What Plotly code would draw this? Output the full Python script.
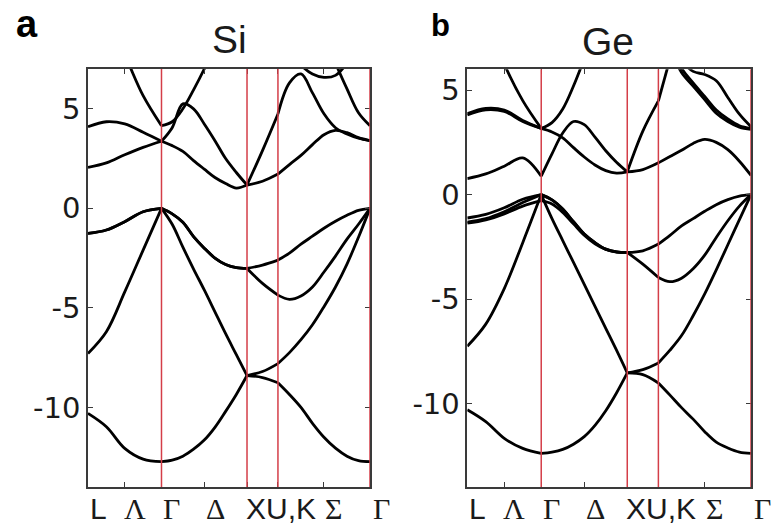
import plotly.graph_objects as go

# ---------------- data ----------------
# k-path nodes: L, Gamma, X, U|K, Gamma
K_NODES = [0.0, 0.855, 1.85, 2.21, 3.281]
# sample fractions along each segment  (L-G | G-X | X-U | K-G)
SEG_FRACS = [
    [0, .25, .5, .75, 1],
    [0, .125, .25, .375, .5, .625, .75, .875, 1],
    [0, .5, 1],
    [0, .125, .25, .375, .5, .625, .75, .875, 1],
]
TICK_K = [0.0, 0.4275, 0.855, 1.3525, 1.85, 2.21, 2.7455, 3.281]
TICK_TEXT = ["L", "Λ", "Γ", "Δ", "X", "U,K", "Σ", "Γ"]
TICK_SERIF = [False, True, True, True, False, False, True, True]
TICK_SHIFT = [10, 10, 10, 11, 9, 13, 10, 11]
Y_TICKS = [-10, -5, 0, 5]
Y_TICKTEXT = ["-10", "-5", "0", "5"]
SI_YRANGE = [-14, 7]
GE_YRANGE = [-14, 6]
N = None

# Si bands (eV), order: L-G(5) | G-X(9) | X-U(3) | K-G(9)
si_v1 = [-10.3, -10.97, -12.06, -12.6, -12.73,
         -12.73, -12.65, -12.45, -12.1, -11.64, -11.0, -10.2, -9.35, -8.4,
         -8.4, -8.5, -8.76,
         -8.76, -9.35, -10.0, -10.8, -11.5, -12.05, -12.45, -12.68, -12.73]
si_v2 = [-7.29, -6.2, -4.2, -2.1, 0.0,
         0.0, -0.8, -1.95, -3.05, -4.1, -5.2, -6.3, -7.35, -8.4,
         -8.4, -8.2, -7.8,
         -7.8, -7.25, -6.6, -5.85, -4.94, -3.95, -2.8, -1.45, 0.0]
si_v3 = [-1.26, -1.09, -0.67, -0.17, 0.0,
         0.0, -0.28, -0.7, -1.42, -2.0, -2.5, -2.82, -2.98, -3.02,
         -3.02, -3.77, -4.36,
         -4.36, -4.57, -4.4, -3.95, -3.2, -2.4, -1.55, -0.8, 0.0]
si_v4 = [-1.26, -1.09, -0.67, -0.17, 0.0,
         0.0, -0.28, -0.7, -1.42, -2.0, -2.5, -2.82, -2.98, -3.02,
         -3.02, -2.85, -2.6,
         -2.6, -2.25, -1.8, -1.4, -1.0, -0.65, -0.35, -0.1, 0.0]
si_c1 = [2.06, 2.28, 2.69, 3.06, 3.37,
         3.37, 3.15, 2.86, 2.4, 1.97, 1.55, 1.25, 1.02, 1.17,
         1.17, 1.36, 1.72,
         1.72, 2.2, 2.66, 3.2, 3.7, 3.92, 3.8, 3.55, 3.4]
si_c2 = [4.1, 4.35, 4.24, 3.82, 3.37,
         3.37, 4.05, 5.25, 5.0, 4.24, 3.4, 2.5, 1.8, 1.17,
         1.17, 2.9, 4.74,
         4.74, 6.3, 6.75, 5.8, 4.75, 4.05, 3.73, 3.52, 3.4]
si_c3 = [N, 9.5, 7.7, 5.66, 4.15,
         4.15, 4.35, 5.0, 5.95, 7.0, 8.2, N, N, N,
         N, N, N,
         N, N, N, N, N, N, N, N, N]
si_c4 = [N, N, N, N, N,
         N, N, N, N, N, N, N, N, N,
         N, N, N,
         N, N, N, N, 8.8, 7.3, 6.0, 4.8, 4.15]
si_c5 = [N, N, N, N, N,
         N, N, N, N, N, N, N, N, N,
         N, N, N,
         N, 8.0, 7.2, 6.75, 6.58, 6.68, 7.3, 8.3, N]

# Ge bands (eV)
ge_v1 = [-10.3, -10.87, -11.67, -12.15, -12.39,
         -12.39, -12.33, -12.2, -11.95, -11.59, -11.05, -10.35, -9.5, -8.54,
         -8.54, -8.62, -9.02,
         -9.02, -9.6, -10.2, -10.75, -11.35, -11.85, -12.13, -12.33, -12.39]
ge_v2 = [-7.26, -6.2, -4.5, -2.3, 0.0,
         0.0, -1.15, -2.2, -3.25, -4.3, -5.35, -6.4, -7.45, -8.54,
         -8.54, -8.38, -8.06,
         -8.06, -7.45, -6.75, -5.8, -4.75, -3.6, -2.4, -1.2, 0.0]
ge_v3 = [-1.32, -1.15, -0.82, -0.38, 0.0,
         0.0, -0.25, -0.69, -1.3, -1.89, -2.3, -2.61, -2.74, -2.77,
         -2.77, -3.33, -3.97,
         -3.97, -4.17, -4.0, -3.55, -2.9, -2.05, -1.25, -0.55, 0.0]
ge_v4 = [-1.12, -0.95, -0.63, -0.22, 0.0,
         0.0, -0.25, -0.69, -1.3, -1.89, -2.3, -2.61, -2.74, -2.77,
         -2.77, -2.69, -2.37,
         -2.37, -1.95, -1.5, -1.15, -0.8, -0.48, -0.24, -0.07, 0.0]
ge_so = [-1.37, -1.21, -0.92, -0.55, -0.29,
         -0.29, -0.45, -0.85, -1.4, -1.95, -2.36, -2.63, -2.75, -2.77,
         N, N, N,
         N, N, N, N, N, N, N, N, N]
ge_c1 = [0.77, 0.99, 1.36, 1.76, 0.88,
         0.88, 1.95, 2.95, 3.5, 3.35, 2.75, 2.1, 1.55, 1.09,
         1.09, 1.2, 1.52,
         1.52, 1.82, 2.12, 2.45, 2.64, 2.5, 2.15, 1.6, 0.92]
ge_c2 = [3.88, 4.13, 4.05, 3.55, 3.17,
         3.17, 3.0, 2.72, 2.25, 1.8, 1.42, 1.15, 1.03, 1.09,
         1.09, 3.04, 4.49,
         4.49, 6.5, N, N, N, N, N, N, N]
ge_c2b = [3.81, 4.06, 3.98, 3.5, 3.17,
          N, N, N, N, N, N, N, N, N,
          N, N, N,
          N, N, N, N, N, N, N, N, N]
ge_c3 = [N, 8.5, 6.25, 4.5, 3.17,
         3.17, 3.45, 4.1, 5.2, 6.5, 7.8, N, N, N,
         N, N, N,
         N, N, N, N, N, N, N, N, N]
ge_c4 = [N, N, N, N, N,
         N, N, N, N, N, N, N, N, N,
         N, N, N,
         N, 7.0, 5.85, 5.2, 4.55, 3.9, 3.5, 3.23, 3.12]
ge_c5 = [N, N, N, N, N,
         N, N, N, N, N, N, N, N, N,
         N, N, N,
         N, 7.3, 6.05, 5.35, 4.7, 4.05, 3.62, 3.3, 3.17]
ge_c6 = [N, N, N, N, N,
         N, N, N, N, N, N, N, N, N,
         N, N, N,
         N, N, 6.4, 5.9, 5.75, 5.45, 4.65, 3.85, 3.25]

SI_BANDS = [si_v1, si_v2, si_v3, si_v4, si_c1, si_c2, si_c3, si_c4, si_c5]
GE_BANDS = [ge_v1, ge_v2, ge_v3, ge_v4, ge_so, ge_c1, ge_c2, ge_c2b,
            ge_c3, ge_c4, ge_c5, ge_c6]

# ---------------- helpers ----------------
def path_xy(vals):
    xs, ys = [], []
    i = 0
    for s, fr in enumerate(SEG_FRACS):
        k0, k1 = K_NODES[s], K_NODES[s + 1]
        for f in fr:
            xs.append(k0 + f * (k1 - k0))
            ys.append(vals[i])
            i += 1
        xs.append(None)
        ys.append(None)
    return xs, ys


W, H = 772, 526
SANS = "Liberation Sans, Arial, sans-serif"
WIDE = "DejaVu Sans, Verdana, sans-serif"
SERIF = "Liberation Serif, Times New Roman, serif"
RED = "rgb(212,62,72)"
FRAME = "#3a3a3a"
TXT = "#1a1a1a"

fig = go.Figure()
for bands, xa, ya in [(SI_BANDS, "x", "y"), (GE_BANDS, "x2", "y2")]:
    for b in bands:
        xs, ys = path_xy(b)
        fig.add_trace(go.Scatter(
            x=xs, y=ys, mode="lines", xaxis=xa, yaxis=ya,
            line=dict(color="black", width=2.8, shape="spline", smoothing=1.0),
            connectgaps=False, showlegend=False, hoverinfo="skip"))

panels = [
    dict(xd=[88 / W, 370 / W], yd=[1 - 487 / H, 1 - 69 / H], yr=SI_YRANGE),
    dict(xd=[467.3 / W, 751 / W], yd=[1 - 487 / H, 1 - 69.3 / H], yr=GE_YRANGE),
]
layout = dict(width=W, height=H, margin=dict(l=0, r=0, t=0, b=0),
              paper_bgcolor="white", plot_bgcolor="white",
              font=dict(family=SANS, color=TXT), showlegend=False)
for i, p in enumerate(panels):
    sx = "" if i == 0 else "2"
    layout["xaxis" + sx] = dict(
        domain=p["xd"], range=[0, K_NODES[-1]], anchor="y" + sx,
        showline=True, linecolor=FRAME, linewidth=1.5, mirror="ticks",
        ticks="inside", ticklen=5, tickwidth=1.2, tickcolor=FRAME,
        tickvals=TICK_K, showticklabels=False,
        showgrid=False, zeroline=False, fixedrange=True)
    layout["yaxis" + sx] = dict(
        domain=p["yd"], range=p["yr"], anchor="x" + sx,
        showline=True, linecolor=FRAME, linewidth=1.5, mirror="ticks",
        ticks="inside", ticklen=5, tickwidth=1.2, tickcolor=FRAME,
        tickvals=Y_TICKS, ticktext=Y_TICKTEXT,
        tickfont=dict(size=29, family=WIDE, color=TXT),
        ticklabelstandoff=0,
        showgrid=False, zeroline=False, fixedrange=True)
fig.update_layout(**layout)

shapes = []
annotations = []
for i in range(2):
    sx = "" if i == 0 else "2"
    for k in K_NODES[1:]:
        shapes.append(dict(type="line", xref="x" + sx, yref="y" + sx + " domain",
                           x0=k, x1=k, y0=0, y1=1, layer="above",
                           line=dict(color=RED, width=1.5)))
    for k, t, serif, sh in zip(TICK_K, TICK_TEXT, TICK_SERIF, TICK_SHIFT):
        annotations.append(dict(
            x=k, xref="x" + sx, y=1 - 508 / H, yref="paper", xshift=sh,
            text=t, showarrow=False, xanchor="center", yanchor="middle",
            font=dict(size=30, family=SERIF if serif else SANS, color=TXT)))

annotations.append(dict(x=229 / W, y=1 - 40 / H, xref="paper", yref="paper",
                        text="Si", showarrow=False, xanchor="center", yanchor="middle",
                        font=dict(size=39, family=SANS, color=TXT)))
annotations.append(dict(x=608 / W, y=1 - 41 / H, xref="paper", yref="paper",
                        text="Ge", showarrow=False, xanchor="center", yanchor="middle",
                        font=dict(size=39, family=SANS, color=TXT)))
annotations.append(dict(x=14 / W, y=1 - 24 / H, xref="paper", yref="paper",
                        text="<b>a</b>", showarrow=False, xanchor="left", yanchor="middle",
                        font=dict(size=38, family=SANS, color="black")))
annotations.append(dict(x=429 / W, y=1 - 26 / H, xref="paper", yref="paper",
                        text="<b>b</b>", showarrow=False, xanchor="left", yanchor="middle",
                        font=dict(size=31, family=SANS, color="black")))

fig.update_layout(shapes=shapes, annotations=annotations)
fig.write_html("out.html",
               config={"displayModeBar": False},
               post_script="document.body.style.margin='0';document.body.style.overflow='hidden';")
